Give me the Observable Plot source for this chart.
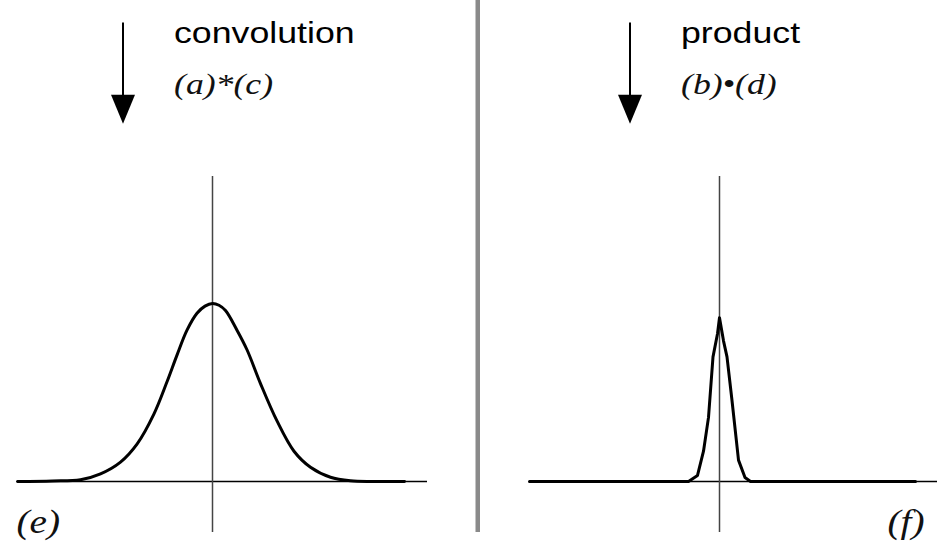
<!DOCTYPE html>
<html>
<head>
<meta charset="utf-8">
<script src="https://cdn.jsdelivr.net/npm/d3@7"></script>
<script src="https://cdn.jsdelivr.net/npm/@observablehq/plot@0.6"></script>
<style>
  html, body { margin: 0; padding: 0; background: #fff; overflow: hidden; }
  #chart { display: flex; width: 941px; height: 552px; }
  #chart svg { display: block; background: #fff; max-width: none; }
</style>
</head>
<body>
<div id="chart"></div>
<script>
// Panels and their annotations
const panels = ["e", "f"];
const operations = ["convolution", "product"];
const formulas = ["(a)*(c)", "(b)\u2022(d)"];
const panelLabels = ["(e)", "(f)"];

// (e) convolution of the two functions: a broad bell
const convX = [-3.9, -3.2, -2.64, -2.24, -1.84, -1.51, -1.17, -0.91, -0.71, -0.51, -0.31, -0.15, 0, 0.13, 0.26, 0.49, 0.69, 0.96, 1.29, 1.63, 1.96, 2.36, 2.76, 3.2, 3.84];
const convY = [0, 0.003, 0.01, 0.043, 0.109, 0.21, 0.38, 0.56, 0.71, 0.85, 0.945, 0.985, 1.0, 0.99, 0.96, 0.85, 0.74, 0.55, 0.34, 0.17, 0.08, 0.024, 0.004, 0, 0];

// (f) pointwise product: a narrow spike
const prodX = [-3.8, -0.62, -0.44, -0.32, -0.22, -0.13, -0.04, 0, 0.08, 0.15, 0.25, 0.38, 0.51, 0.62, 3.92];
const prodY = [0, 0, 0.034, 0.17, 0.36, 0.70, 0.83, 0.92, 0.79, 0.70, 0.455, 0.12, 0.022, 0, 0];

// horizontal extent of each panel's x axis line
const axisStart = [-3.9, -3.8];
const axisEnd = [4.3, 4.36];

const curves = [
  {x: convX, y: convY, curve: "catmull-rom"},
  {x: prodX, y: prodY, curve: "linear"}
];

// filled downward arrowhead, tip at the anchor point
const arrowHead = {
  draw(context, size) {
    const r = Math.sqrt(size / Math.PI);
    const len = r * 29 / 12;
    context.moveTo(0, 0);
    context.lineTo(-r, -len);
    context.lineTo(r, -len);
    context.closePath();
  }
};

const sans = "'Liberation Sans', Arial, Helvetica, sans-serif";
const serif = "'Liberation Serif', 'Times New Roman', Times, serif";

function stretchText(svg, k) {
  d3.select(svg).selectAll("text").each(function () {
    const t = this.getAttribute("transform");
    if (t) {
      this.setAttribute("transform", `${t} scale(${k},1)`);
    } else {
      const x = +this.getAttribute("x") || 0;
      this.setAttribute("transform", `translate(${x},0) scale(${k},1) translate(${-x},0)`);
    }
  });
}

function panelChart(i, layout) {
  const c = curves[i];
  const pts = c.x.map((x, j) => ({x, y: c.y[j]}));
  const marks = [
    // x axis line
    Plot.ruleY([0], {x1: axisStart[i], x2: axisEnd[i], stroke: "#000", strokeWidth: 1.3}),
    // y axis line
    Plot.ruleX([0], {y1: -0.287, y2: 1.713, stroke: "#444", strokeWidth: 1.5}),
    // the result curve
    Plot.line(pts, {x: "x", y: "y", curve: c.curve, stroke: "#000", strokeWidth: 3, strokeLinejoin: "round"}),
    // downward arrow
    Plot.ruleX([-1.79], {y1: 2.575, y2: 2.15, stroke: "#000", strokeWidth: 2}),
    Plot.dot([-1.79], {x: d => d, y: 2.0096, symbol: arrowHead, r: 12, fill: "#000", stroke: null}),
    // operation name and formula
    Plot.text([operations[i]], {x: -0.77, y: 2.462, text: d => d, textAnchor: "start", lineAnchor: "bottom",
      fontFamily: sans, fontSize: 30, fill: "#000"}),
    Plot.text([formulas[i]], {x: -0.77, y: 2.174, text: d => d, textAnchor: "start", lineAnchor: "bottom",
      fontFamily: serif, fontStyle: "italic", fontSize: 30, fill: "#111"}),
    // panel label
    Plot.text([panelLabels[i]], {x: layout.labelX, y: -0.292, text: d => d, textAnchor: "start", lineAnchor: "bottom",
      fontFamily: serif, fontStyle: "italic", fontSize: 33, fill: "#111"})
  ];
  if (layout.divider) {
    marks.push(Plot.ruleX([layout.divider], {y1: -0.287, y2: 2.702, stroke: "#8a8a8a", strokeWidth: 5}));
  }
  const svg = Plot.plot({
    width: layout.width,
    height: 552,
    marginLeft: layout.marginLeft,
    marginRight: layout.marginRight,
    marginTop: 0,
    marginBottom: 0,
    x: {domain: [-3.9, 4.36], axis: null},
    y: {domain: [-0.399, 2.702], axis: null},
    style: {background: "#fff", overflow: "visible"},
    marks
  });
  stretchText(svg, 1.19);
  return svg;
}

const host = document.getElementById("chart");
host.appendChild(panelChart(0, {width: 480, marginLeft: 17, marginRight: 50, labelX: -3.92, divider: 5.31}));
host.appendChild(panelChart(1, {width: 461, marginLeft: 44, marginRight: 4, labelX: 3.36}));
</script>
</body>
</html>
